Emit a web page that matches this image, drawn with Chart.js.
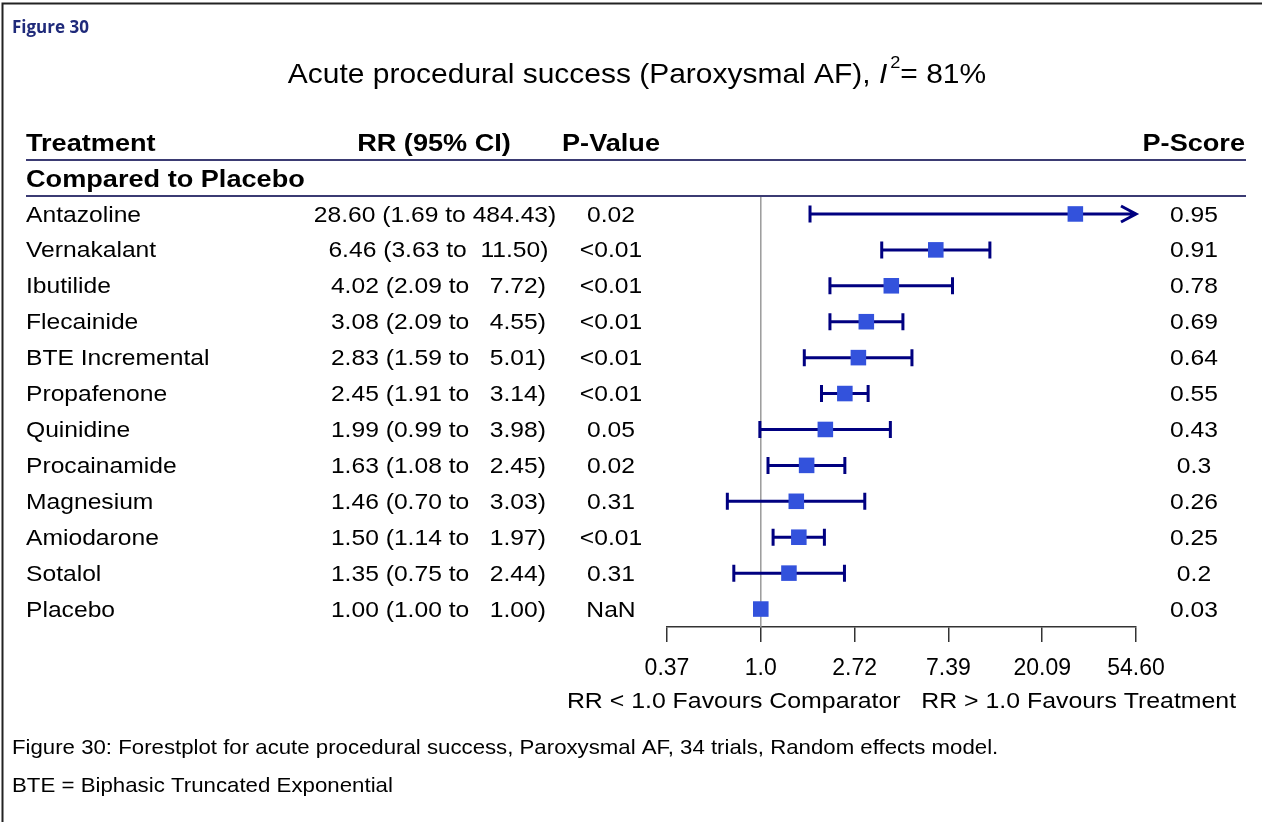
<!DOCTYPE html>
<html>
<head>
<meta charset="utf-8">
<script src="https://cdn.jsdelivr.net/npm/chart.js@4.4.1/dist/chart.umd.min.js"></script>
<style>
html, body { margin: 0; padding: 0; background: #fff; }
canvas { display: block; }
</style>
</head>
<body>
<canvas id="forest" width="1262" height="822"></canvas>
<script>
// rows, top to bottom
const treatments = ['Antazoline', 'Vernakalant', 'Ibutilide', 'Flecainide', 'BTE Incremental', 'Propafenone',
    'Quinidine', 'Procainamide', 'Magnesium', 'Amiodarone', 'Sotalol', 'Placebo'];
const rr    = [28.60, 6.46, 4.02, 3.08, 2.83, 2.45, 1.99, 1.63, 1.46, 1.50, 1.35, 1.00];
const lower = [1.69, 3.63, 2.09, 2.09, 1.59, 1.91, 0.99, 1.08, 0.70, 1.14, 0.75, 1.00];
const upper = [484.43, 11.50, 7.72, 4.55, 5.01, 3.14, 3.98, 2.45, 3.03, 1.97, 2.44, 1.00];
const pValues = ['0.02', '<0.01', '<0.01', '<0.01', '<0.01', '<0.01', '0.05', '0.02', '0.31', '<0.01', '0.31', 'NaN'];
const pScores = ['0.95', '0.91', '0.78', '0.69', '0.64', '0.55', '0.43', '0.3', '0.26', '0.25', '0.2', '0.03'];

// x axis (log scale, e^-1 .. e^4)
const tickValues = [0.3679, 1, 2.7183, 7.3891, 20.0855, 54.5982];
const tickLabels = ['0.37', '1.0', '2.72', '7.39', '20.09', '54.60'];
const axisTitle = 'RR < 1.0 Favours Comparator   RR > 1.0 Favours Treatment';

const FONT = '"Liberation Sans", Arial, sans-serif';
const NAVY = '#000080';

function pad(s, n) {
    while (s.length < n) s = ' ' + s;
    return s;
}
const ciText = rr.map((v, i) => `${pad(v.toFixed(2), 5)} (${lower[i].toFixed(2)} to ${pad(upper[i].toFixed(2), 6)})`);

// text with a little horizontal stretch, like the original export
function label(ctx, text, x, y, font, align = 'left', sx = 1.12, color = '#000') {
    ctx.save();
    ctx.font = font;
    ctx.fillStyle = color;
    ctx.textAlign = align;
    ctx.textBaseline = 'middle';
    ctx.translate(x, y);
    ctx.scale(sx, 1);
    ctx.fillText(text, 0, 0);
    ctx.restore();
}

const forestPlugin = {
    id: 'forest',
    beforeDatasetsDraw(chart) {
        const { ctx, chartArea, scales: { x, y } } = chart;
        ctx.save();
        // no-effect line
        let x1 = x.getPixelForValue(1);
        ctx.strokeStyle = '#9a9a9a';
        ctx.lineWidth = 1.5;
        ctx.beginPath();
        ctx.moveTo(x1, chartArea.top);
        ctx.lineTo(x1, chartArea.bottom);
        ctx.stroke();

        // confidence intervals
        ctx.strokeStyle = NAVY;
        ctx.lineWidth = 3;
        treatments.forEach((t, i) => {
            if (lower[i] === upper[i]) return;
            let yy = y.getPixelForValue(i);
            let xl = x.getPixelForValue(Math.max(lower[i], x.min));
            let clipped = upper[i] > x.max;
            let xu = x.getPixelForValue(Math.min(upper[i], x.max));
            ctx.beginPath();
            ctx.moveTo(xl, yy);
            ctx.lineTo(xu, yy);
            ctx.moveTo(xl, yy - 8.5);
            ctx.lineTo(xl, yy + 8.5);
            if (clipped) {
                ctx.moveTo(xu - 15, yy - 8);
                ctx.lineTo(xu, yy);
                ctx.lineTo(xu - 15, yy + 8);
            } else {
                ctx.moveTo(xu, yy - 8.5);
                ctx.lineTo(xu, yy + 8.5);
            }
            ctx.stroke();
        });
        ctx.restore();
    },
    afterDraw(chart) {
        const { ctx, chartArea, scales: { y } } = chart;
        ctx.save();
        // frame
        ctx.strokeStyle = '#222';
        ctx.lineWidth = 2;
        ctx.beginPath();
        ctx.moveTo(2.5, 822);
        ctx.lineTo(2.5, 3.5);
        ctx.lineTo(1262, 3.5);
        ctx.stroke();

        label(ctx, 'Figure 30', 12, 28, `bold 17px "Open Sans", sans-serif`, 'left', 1, '#1f2a7a');

        // title with italic I and superscript 2
        let ts = 1.07;
        let f = `28px ${FONT}`, fi = `italic 28px ${FONT}`, fs = `17px ${FONT}`;
        let p1 = 'Acute procedural success (Paroxysmal AF), ', p2 = 'I', p3 = '2', p4 = '= 81%';
        ctx.font = f; let w1 = ctx.measureText(p1).width * ts, w4 = ctx.measureText(p4).width * ts;
        ctx.font = fi; let w2 = ctx.measureText(p2).width * ts + 3;
        ctx.font = fs; let w3 = ctx.measureText(p3).width * ts;
        let tx = 637 - (w1 + w2 + w3 + w4) / 2, ty = 75;
        label(ctx, p1, tx, ty, f, 'left', ts);
        label(ctx, p2, tx + w1, ty, fi, 'left', ts);
        label(ctx, p3, tx + w1 + w2, ty - 12, fs, 'left', ts);
        label(ctx, p4, tx + w1 + w2 + w3, ty, f, 'left', ts);

        // table headers
        let hb = `bold 24px ${FONT}`;
        let hy = y.getPixelForValue(-2) + 2, gy = y.getPixelForValue(-1) + 2;
        label(ctx, 'Treatment', 26, hy, hb, 'left', 1.13);
        label(ctx, 'RR (95% CI)', 434, hy, hb, 'center', 1.13);
        label(ctx, 'P-Value', 611, hy, hb, 'center', 1.13);
        label(ctx, 'P-Score', 1245, hy, hb, 'right', 1.13);
        label(ctx, 'Compared to Placebo', 26, gy, hb, 'left', 1.13);

        ctx.strokeStyle = '#3b3b73';
        ctx.lineWidth = 2;
        [-1.5, -0.5].forEach(v => {
            let ly = Math.round(y.getPixelForValue(v));
            ctx.beginPath();
            ctx.moveTo(26, ly);
            ctx.lineTo(1246, ly);
            ctx.stroke();
        });

        // table rows
        let rf = `22px ${FONT}`;
        treatments.forEach((t, i) => {
            let yy = y.getPixelForValue(i) + 1.5;
            label(ctx, t, 26, yy, rf);
            label(ctx, ciText[i], 435, yy, rf, 'center');
            label(ctx, pValues[i], 611, yy, rf, 'center');
            label(ctx, pScores[i], 1194, yy, rf, 'center');
        });

        // axis caption under the tick labels
        label(ctx, axisTitle, (chartArea.left + chartArea.right) / 2, 702, rf, 'center', 1.13);

        // figure caption
        let cf = `21px ${FONT}`;
        label(ctx, 'Figure 30: Forestplot for acute procedural success, Paroxysmal AF, 34 trials, Random effects model.', 12, 748, cf, 'left', 1.058);
        label(ctx, 'BTE = Biphasic Truncated Exponential', 12, 786, cf, 'left', 1.06);
        ctx.restore();
    }
};

new Chart(document.getElementById('forest'), {
    type: 'scatter',
    data: {
        datasets: [{
            data: treatments.map((t, i) => ({ x: rr[i], y: i })),
            pointStyle: 'rect',
            pointRadius: 11,
            pointHoverRadius: 11,
            backgroundColor: '#3352dc',
            borderWidth: 0,
        }]
    },
    options: {
        responsive: false,
        animation: false,
        devicePixelRatio: 1,
        events: [],
        layout: { padding: { left: 667, right: 126, top: 196, bottom: 105 } },
        plugins: {
            legend: { display: false },
            tooltip: { enabled: false },
        },
        scales: {
            x: {
                type: 'logarithmic',
                min: tickValues[0],
                max: tickValues[tickValues.length - 1],
                afterBuildTicks: scale => { scale.ticks = tickValues.map(v => ({ value: v })); },
                afterFit: scale => { scale.height = 90; },
                border: { display: true, color: '#333', width: 1.5 },
                grid: { drawOnChartArea: false, drawTicks: true, tickLength: 15, tickColor: '#333', lineWidth: 1.5 },
                ticks: {
                    color: '#000',
                    font: { family: FONT, size: 23 },
                    padding: 13,
                    maxRotation: 0,
                    autoSkip: false,
                    callback: (value, index) => tickLabels[index],
                },
            },
            y: { display: false, min: -0.5, max: 11.5, reverse: true },
        },
    },
    plugins: [forestPlugin],
});
</script>
</body>
</html>
